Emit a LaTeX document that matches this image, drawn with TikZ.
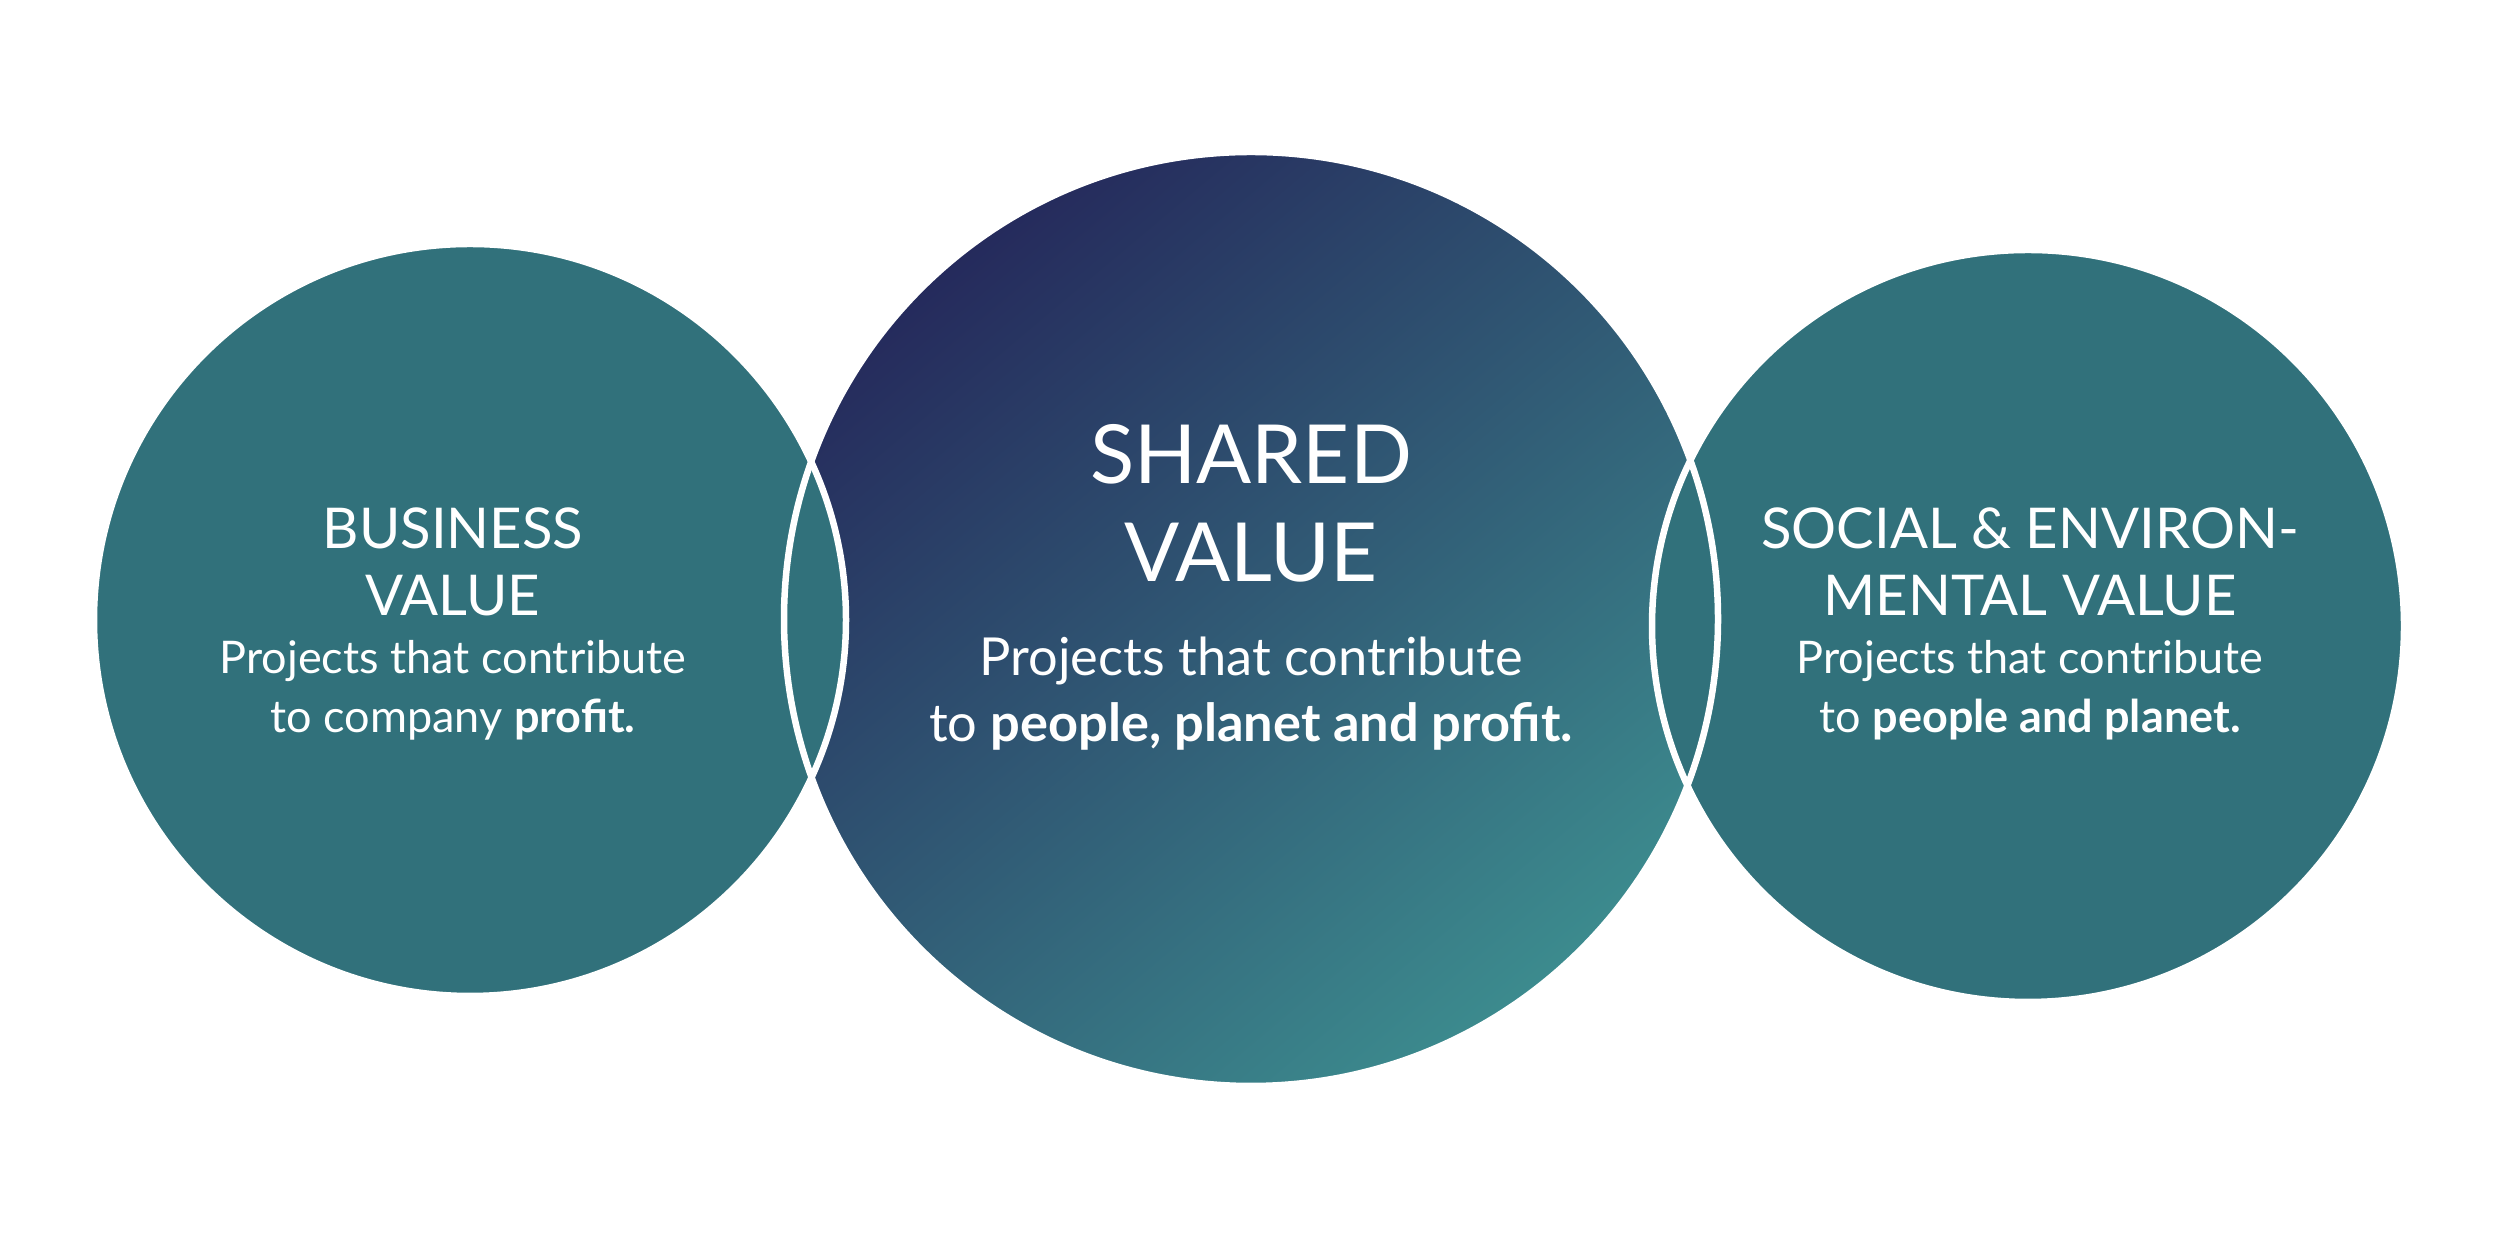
\documentclass[tikz,border=0pt]{standalone}
\usepackage{fontspec}
\setmainfont{Lato}
\definecolor{sideteal}{HTML}{31717B}
\definecolor{midnavy}{HTML}{252A5C}
\definecolor{midblue}{HTML}{1F5B84}
\definecolor{midteal}{HTML}{3C8B8E}
\begin{document}
\begin{tikzpicture}[
    ring/.style={draw=white, line width=0.065cm},
    head/.style={text=white, align=center, anchor=base, inner sep=0pt, font=\fontsize{16}{19.1}\selectfont},
    body/.style={text=white, align=center, anchor=base, inner sep=0pt, font=\fontsize{12.8}{16.8}\selectfont},
    bighead/.style={head, font=\fontsize{23.2}{27.9}\selectfont},
    bigbody/.style={body, font=\fontsize{14.9}{18.8}\selectfont}
]
    \useasboundingbox (0,0) rectangle (25,12.39);

    % circles
    \shade [shading=axis, top color=midnavy, middle color=midblue, bottom color=midteal, shading angle=40] (12.51,6.20) circle (4.67);
    \fill [sideteal] (4.70,6.19) circle (3.76);
    \fill [sideteal] (20.28,6.13) circle (3.76);
    \foreach \cx/\cy/\r in {4.70/6.19/3.76, 12.51/6.20/4.67, 20.28/6.13/3.76}
        \draw [ring] (\cx,\cy) circle (\r);

    % texts (base = last line)
    \node [head] (busihead) at (4.53,6.23) {BUSINESS\\VALUE};
    \node [body] (busibody) at (4.53,5.06) {Projects that contribute\\to company \textbf{profit.}};
    \node [bighead] (sharedhead) at (12.51,6.57) {SHARED\\VALUE};
    \node [bigbody] (sharedbody) at (12.51,4.97) {Projects that contribute\\to \textbf{people, planet and profit.}};
    \node [head] (sochead) at (20.30,6.23) {SOCIAL \& ENVIRON-\\MENTAL VALUE};
    \node [body] (socbody) at (20.30,5.06) {Projects that contribute\\to \textbf{people and planet.}};
\end{tikzpicture}
\end{document}
